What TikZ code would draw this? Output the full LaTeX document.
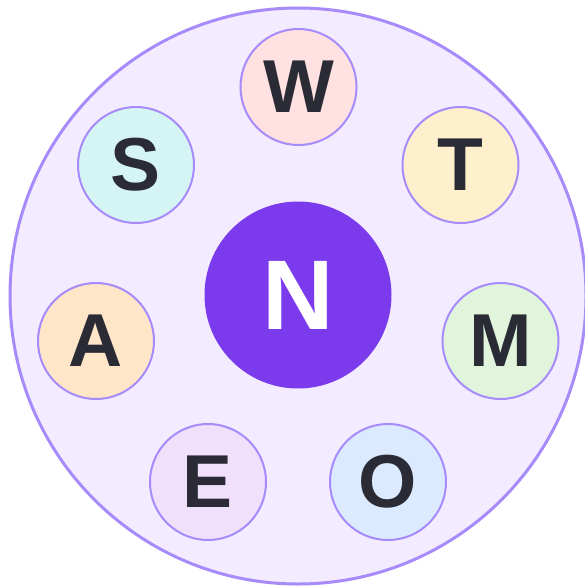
\documentclass[tikz,border=0pt]{standalone}
\usepackage{fontspec}
\setmainfont{Liberation Sans}
\usepackage{xcolor}

\definecolor{ringfill}{HTML}{F3EBFF}
\definecolor{ringline}{HTML}{A78BFA}
\definecolor{hubfill}{HTML}{7C3AED}
\definecolor{letterink}{HTML}{2B2B35}
\definecolor{wfill}{HTML}{FFE1E1}
\definecolor{tfill}{HTML}{FEF0CC}
\definecolor{mfill}{HTML}{E0F5DC}
\definecolor{ofill}{HTML}{DBEAFE}
\definecolor{efill}{HTML}{F0E0FC}
\definecolor{afill}{HTML}{FFE6C8}
\definecolor{sfill}{HTML}{D4F5F3}

\begin{document}
\begin{tikzpicture}[x=1pt,y=-1pt,
  petal/.style={circle,draw=ringline,line width=2pt,minimum size=116pt,inner sep=0pt,
    text=letterink,font=\fontsize{75}{75}\selectfont\bfseries}]
  \useasboundingbox (0,0) rectangle (584,586);
  \node[circle,draw=ringline,fill=ringfill,line width=3pt,minimum size=576pt,inner sep=0pt] (ring) at (298,296) {};

  \node[circle,fill=hubfill,minimum size=187pt,inner sep=0pt,text=white,
    font=\fontsize{99}{99}\selectfont\bfseries] (hub) at (298,295) {N};

  \node[petal,fill=wfill] (w) at (298.5,87) {W};
  \node[petal,fill=tfill] (t) at (460.5,165) {T};
  \node[petal,fill=mfill] (m) at (500.5,341) {M};
  \node[petal,fill=ofill] (o) at (388,482) {O};
  \node[petal,fill=efill] (e) at (208,482) {E};
  \node[petal,fill=afill] (a) at (96,341) {A};
  \node[petal,fill=sfill] (s) at (136,165) {S};
\end{tikzpicture}
\end{document}
